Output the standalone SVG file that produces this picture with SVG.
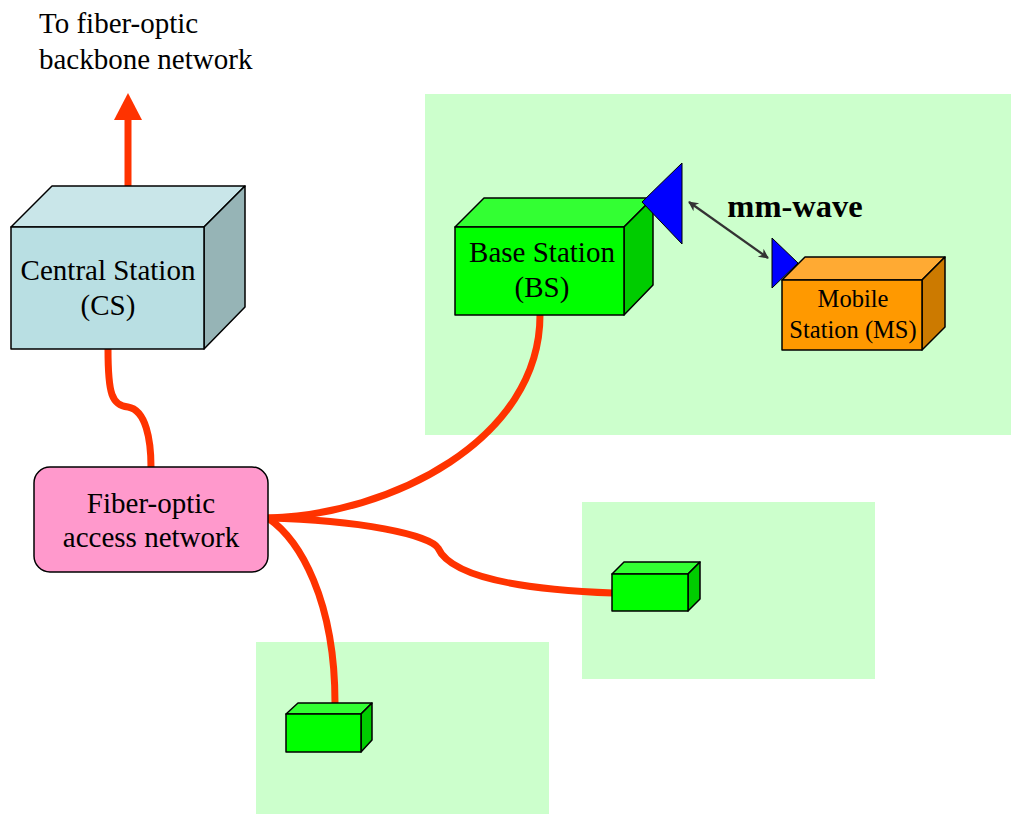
<svg xmlns="http://www.w3.org/2000/svg" width="1011" height="814" viewBox="0 0 1011 814">
<style>
.zone{fill:#CCFFCC}
.t{font-family:"Liberation Serif","Times New Roman",serif;font-size:29px;fill:#000;text-anchor:middle}
.l{text-anchor:start}
.ts{font-size:24.5px}
.b{font-weight:bold;font-size:32.5px}
.e{stroke:#000;stroke-width:1.5;stroke-linejoin:round}
.fiber{fill:none;stroke:#FF3300;stroke-width:7}
.gf{fill:#00FF00}.gt{fill:#33FF33}.gs{fill:#00CC00}
.ant{fill:#0000FF;stroke:#000;stroke-width:1}
</style>
<defs>
<marker id="ah" viewBox="0 0 10 10" refX="9" refY="5" markerWidth="13" markerHeight="10" orient="auto-start-reverse" markerUnits="userSpaceOnUse">
<path d="M0,0 L10,5 L0,10 L3,5 z" fill="#333"/>
</marker>
</defs>
<rect width="1011" height="814" fill="#fff"/>
<g id="zones">
<rect class="zone" x="425" y="94" width="586" height="341"/>
<rect class="zone" x="582" y="502" width="293" height="177"/>
<rect class="zone" x="256" y="642" width="293" height="172"/>
</g>
<g id="connectors">
<path class="fiber" d="M128,197 L128,118"/>
<polygon points="128,93 114,120 142,120" fill="#FF3300"/>
<path class="fiber" d="M108,349 C108,395 112,405 128,407 C146,410 151,440 151,467"/>
<path class="fiber" d="M268,518 C390,515 540,440 540,315"/>
<path class="fiber" d="M268,518 C360,520 430,535 438,548 C446,566 480,588 613,593"/>
<path class="fiber" d="M268,518 C300,540 335,600 335,703"/>
<line x1="689" y1="202" x2="768" y2="258" stroke="#333" stroke-width="2.2" marker-start="url(#ah)" marker-end="url(#ah)"/>
</g>
<g id="label-backbone">
<text class="t l" x="39" y="33">To fiber-optic</text>
<text class="t l" x="39" y="69">backbone network</text>
</g>
<g id="cs">
<polygon class="e" points="11,227 52,186 245,186 204,227" fill="#C9E6E9"/>
<polygon class="e" points="204,227 245,186 245,307 204,349" fill="#96B4B6"/>
<rect class="e" x="11" y="227" width="193" height="122" fill="#B9DFE3"/>
<text class="t" x="108" y="280">Central Station</text>
<text class="t" x="108" y="315">(CS)</text>
</g>
<g id="access">
<rect class="e" x="34" y="467" width="234" height="105" rx="16" fill="#FF99CC"/>
<text class="t" x="151" y="513">Fiber-optic</text>
<text class="t" x="151" y="547">access network</text>
</g>
<g id="bs">
<polygon class="e gt" points="455,227 484,198 653,198 624,227"/>
<polygon class="e gs" points="624,227 653,198 653,285 624,315"/>
<rect class="e gf" x="455" y="227" width="169" height="88"/>
<polygon class="ant" points="642,202 682,163 682,244"/>
<text class="t" x="542" y="262">Base Station</text>
<text class="t" x="542" y="297">(BS)</text>
</g>
<g id="mmwave">
<text class="t b" x="795" y="217">mm-wave</text>
</g>
<g id="ms">
<polygon class="ant" points="772,238 798,263 772,288"/>
<polygon class="e" points="782,280 805,257 945,257 922,280" fill="#FFAA33"/>
<polygon class="e" points="922,280 945,257 945,327 922,350" fill="#CC7A00"/>
<rect class="e" x="782" y="280" width="140" height="70" fill="#FF9900"/>
<text class="t ts" x="853" y="307">Mobile</text>
<text class="t ts" x="853" y="338">Station (MS)</text>
</g>
<g id="rau1">
<polygon class="e gt" points="612,574 624,562 700,562 688,574"/>
<polygon class="e gs" points="688,574 700,562 700,599 688,611"/>
<rect class="e gf" x="612" y="574" width="76" height="37"/>
</g>
<g id="rau2">
<polygon class="e gt" points="286,714 298,703 372,703 361,714"/>
<polygon class="e gs" points="361,714 372,703 372,740 361,752"/>
<rect class="e gf" x="286" y="714" width="75" height="38"/>
</g>
</svg>
